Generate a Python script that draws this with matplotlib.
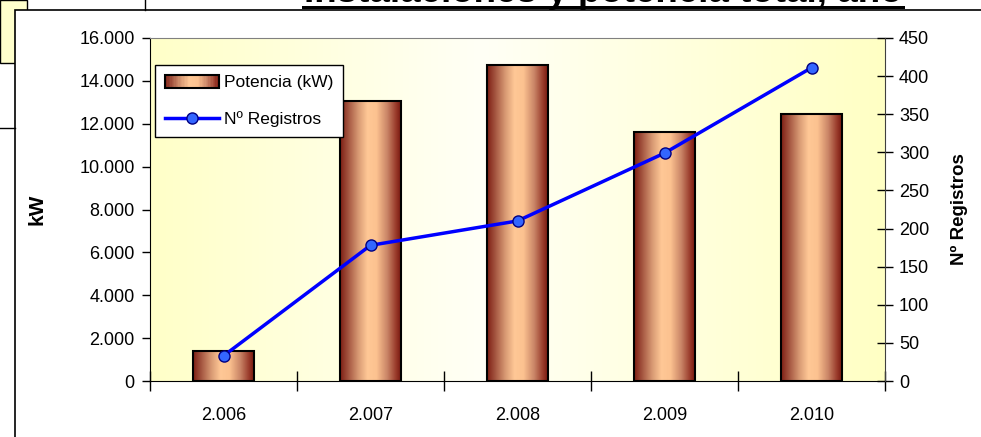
import numpy as np
import matplotlib
matplotlib.use('Agg')
import matplotlib.pyplot as plt
from matplotlib.colors import LinearSegmentedColormap
from matplotlib.legend_handler import HandlerBase
from matplotlib.patches import Rectangle
from matplotlib.lines import Line2D

plt.rcParams['font.family'] = ['Liberation Sans', 'DejaVu Sans']

# data
years = ['2.006', '2.007', '2.008', '2.009', '2.010']
potencia_kw = [1400, 13060, 14740, 11610, 12450]
n_registros = [33, 178, 210, 299, 411]

W, H = 981, 437
fig = plt.figure(figsize=(W / 100, H / 100), dpi=100)


def fx(px):
    return px / W


def fy(py):
    return 1 - py / H


# spreadsheet bits around the chart
fig.patches.append(Rectangle((fx(0), fy(63)), fx(27), 63 / H, transform=fig.transFigure,
                             facecolor='#FFFFCC', edgecolor='black', lw=1, zorder=0))
fig.lines.append(Line2D([fx(0), fx(15)], [fy(127.5), fy(127.5)], transform=fig.transFigure,
                        color='black', lw=1))
fig.lines.append(Line2D([fx(145), fx(145)], [fy(0), fy(10)], transform=fig.transFigure,
                        color='black', lw=1))
# chart frame
fig.patches.append(Rectangle((fx(15), fy(440)), fx(980), 430 / H, transform=fig.transFigure,
                             facecolor='white', edgecolor='black', lw=1.2, zorder=1))

# title, cut off at the top of the image as in the reference
fig.text(fx(603), fy(2.5), 'Instalaciones y potencia total, año', ha='center', va='baseline',
         fontsize=26.5, fontweight='bold', color='black', zorder=3)
fig.patches.append(Rectangle((fx(302), fy(9)), fx(603), 3 / H, transform=fig.transFigure,
                             facecolor='black', edgecolor='none', zorder=3))

ax = fig.add_axes([fx(150), fy(381), fx(735), 343 / H])
ax.set_zorder(2)
ax.patch.set_visible(False)

# pale yellow background with a lighter middle
bg = LinearSegmentedColormap.from_list('bg', [(0, '#FFFFC8'), (0.45, '#FFFFF6'),
                                              (1, '#FFFFC4')])
ax.imshow(np.linspace(0, 1, 256).reshape(1, -1), cmap=bg, extent=[0, 1, 0, 1],
          transform=ax.transAxes, aspect='auto', zorder=0)

x = np.arange(len(years))
bars = ax.bar(x, potencia_kw, width=0.41, facecolor='none', edgecolor='black', lw=1.5, zorder=3)

cyl = LinearSegmentedColormap.from_list('cyl', [
    (0.0, '#7E1E14'), (0.12, '#A0503C'), (0.3, '#D89A74'), (0.45, '#FFC896'),
    (0.6, '#FCC290'), (0.78, '#C98466'), (0.92, '#9A3C2C'), (1.0, '#7A1A10')])
grad = np.linspace(0, 1, 128).reshape(1, -1)
for b in bars:
    im = ax.imshow(grad, cmap=cyl, extent=[b.get_x(), b.get_x() + b.get_width(), 0, b.get_height()],
                   aspect='auto', zorder=2)
    im.set_clip_path(b)

ax.set_xlim(-0.5, len(years) - 0.5)
ax.set_ylim(0, 16000)
ax.set_yticks(np.arange(0, 16001, 2000))
ax.set_yticklabels(['{:,.0f}'.format(v).replace(',', '.') for v in np.arange(0, 16001, 2000)])
ax.set_xticks(x)
ax.set_xticklabels(years)
ax.set_xticks(np.arange(-0.5, len(years)), minor=True)
ax.tick_params(axis='x', which='major', length=0, pad=19, labelsize=13)
ax.tick_params(axis='x', which='minor', direction='inout', length=14, width=1)
ax.tick_params(axis='y', direction='out', length=6, width=1, labelsize=13, pad=5)
ax.set_ylabel('kW', fontsize=15, fontweight='bold', labelpad=24)
ax.spines['top'].set_color('#808080')
ax.spines['right'].set_visible(False)

ax2 = ax.twinx()
ax2.set_zorder(3)
line, = ax2.plot(x, n_registros, color='#0000FF', lw=2.5, marker='o', markersize=8,
                 markerfacecolor='#3366FF', markeredgecolor='#000080', markeredgewidth=1, zorder=4)
ax2.set_ylim(0, 450)
ax2.set_yticks(np.arange(0, 451, 50))
ax2.tick_params(axis='y', direction='inout', length=12, width=1, labelsize=13, pad=4)
ax2.set_ylabel('Nº Registros', fontsize=13.5, fontweight='bold', labelpad=16)
ax2.spines['right'].set_color('#404040')
for s in ['top', 'left', 'bottom']:
    ax2.spines[s].set_visible(False)


class GradientHandler(HandlerBase):
    def create_artists(self, legend, orig_handle, xdescent, ydescent, width, height, fontsize, trans):
        arts = []
        n = 40
        for i in range(n):
            c = cyl((i + 0.5) / n)
            arts.append(Rectangle((-xdescent + width * i / n, -ydescent), width / n + 0.3, height,
                                  facecolor=c, edgecolor='none', transform=trans))
        arts.append(Rectangle((-xdescent, -ydescent), width, height, facecolor='none',
                              edgecolor='black', lw=1.5, transform=trans))
        return arts


leg = ax2.legend([bars, line], ['Potencia (kW)', 'Nº Registros'],
                 handler_map={type(bars): GradientHandler()},
                 loc='upper left', bbox_to_anchor=(0.007, 0.92), fontsize=12.5,
                 frameon=True, fancybox=False, edgecolor='black', framealpha=1,
                 handlelength=3.15, handleheight=0.75, labelspacing=1.2, borderpad=0.55,
                 handletextpad=0.25, borderaxespad=0)
leg.get_frame().set_linewidth(1)

fig.savefig('out.png', dpi=100)
